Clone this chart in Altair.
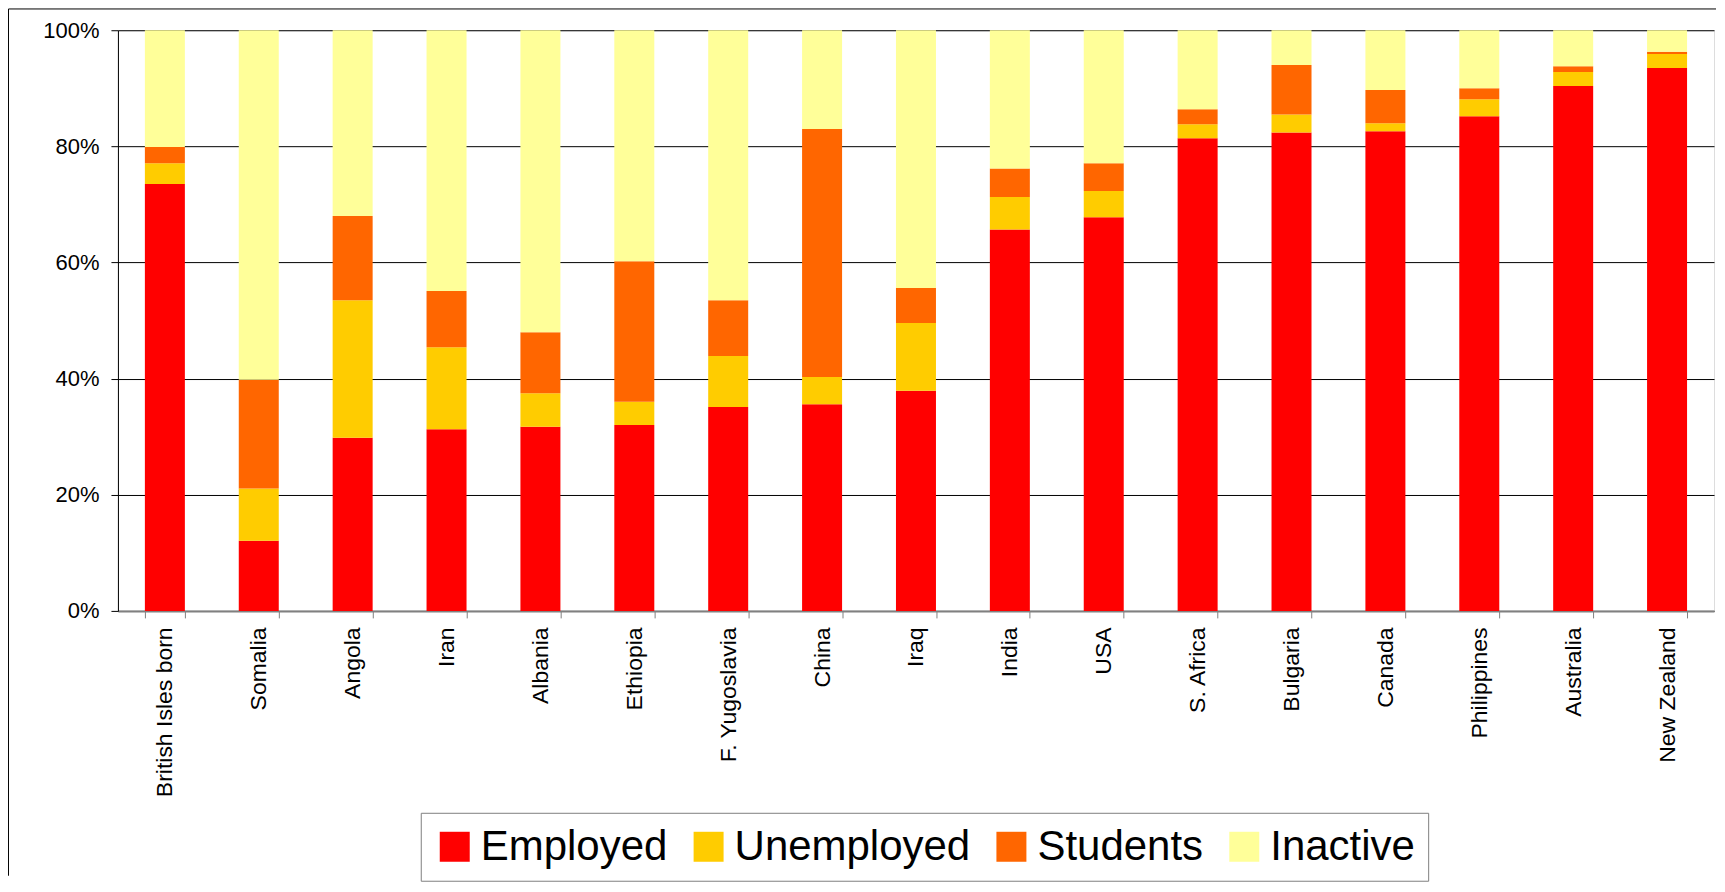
import altair as alt
import pandas as pd

countries = ["British Isles born", "Somalia", "Angola", "Iran", "Albania", "Ethiopia",
             "F. Yugoslavia", "China", "Iraq", "India", "USA", "S. Africa", "Bulgaria",
             "Canada", "Philippines", "Australia", "New Zealand"]
employed = [73.5, 12.1, 29.8, 31.3, 31.7, 32.0, 35.1, 35.6, 37.9, 65.7, 67.8, 81.4, 82.4, 82.6, 85.2, 90.4, 93.5]
unemployed = [3.6, 9.0, 23.7, 14.1, 5.8, 4.0, 8.8, 4.7, 11.7, 5.6, 4.5, 2.4, 3.1, 1.4, 2.9, 2.4, 2.4]
students = [2.8, 18.7, 14.5, 9.7, 10.5, 24.2, 9.6, 42.7, 6.0, 4.9, 4.8, 2.6, 8.5, 5.7, 1.9, 1.0, 0.4]
inactive = [20.1, 60.2, 32.0, 44.9, 52.0, 39.8, 46.5, 17.0, 44.4, 23.8, 22.9, 13.6, 6.0, 10.3, 10.0, 6.2, 3.7]

series = ["Employed", "Unemployed", "Students", "Inactive"]
colors = ["#FF0000", "#FFCC00", "#FF6600", "#FFFF99"]

rows = []
for i, c in enumerate(countries):
    for k, (name, vals) in enumerate(zip(series, [employed, unemployed, students, inactive])):
        rows.append({"country": c, "status": name, "value": vals[i], "order": k})
df = pd.DataFrame(rows)

W, H = 1597, 581
FONT = "Liberation Sans"

bars = alt.Chart(df).mark_bar().encode(
    x=alt.X("country:N", sort=countries, title=None,
            scale=alt.Scale(paddingInner=0.574, paddingOuter=0.287),
            axis=alt.Axis(labelAngle=270, labelFontSize=23, labelFont=FONT, labelColor="black",
                          labelLimit=400, labelPadding=9, tickBand="extent", tickSize=7,
                          tickColor="#808080", domainColor="#808080", domainWidth=2, grid=False)),
    y=alt.Y("value:Q", stack="normalize", title=None,
            scale=alt.Scale(domain=[0, 1], nice=False),
            axis=alt.Axis(format=".0%", values=[0, 0.2, 0.4, 0.6, 0.8, 1.0], labelFontSize=22,
                          labelFont=FONT, labelColor="black", labelPadding=12, tickSize=7,
                          tickColor="black", domainColor="black", domainWidth=1,
                          gridColor="black", gridWidth=1, gridOpacity=1)),
    color=alt.Color("status:N", sort=series, title=None,
                    scale=alt.Scale(domain=series, range=colors),
                    legend=alt.Legend(orient="none", direction="horizontal", legendX=303, legendY=783,
                                      symbolType="square", symbolSize=900, symbolStrokeWidth=0,
                                      labelFontSize=42, labelFont=FONT, labelColor="black",
                                      labelLimit=0, labelOffset=5, columnPadding=20,
                                      padding=13, strokeColor="#808080")),
    order=alt.Order("order:Q", sort="ascending"),
)

frame_df = pd.DataFrame({"a": [0]})
left_rule = alt.Chart(frame_df).mark_rule(color="black", strokeWidth=1).encode(
    x=alt.value(-109.5), y=alt.value(-21.3), y2=alt.value(846)
)
top_rule = alt.Chart(frame_df).mark_rule(color="black", strokeWidth=1).encode(
    x=alt.value(-109.5), x2=alt.value(W + 2), y=alt.value(-21.3)
)

chart = alt.layer(bars, left_rule, top_rule).properties(
    width=W, height=H, padding=0
).configure_view(stroke="transparent").configure(background="white")

chart.save("out.html", embed_options={"renderer": "svg", "actions": False})
